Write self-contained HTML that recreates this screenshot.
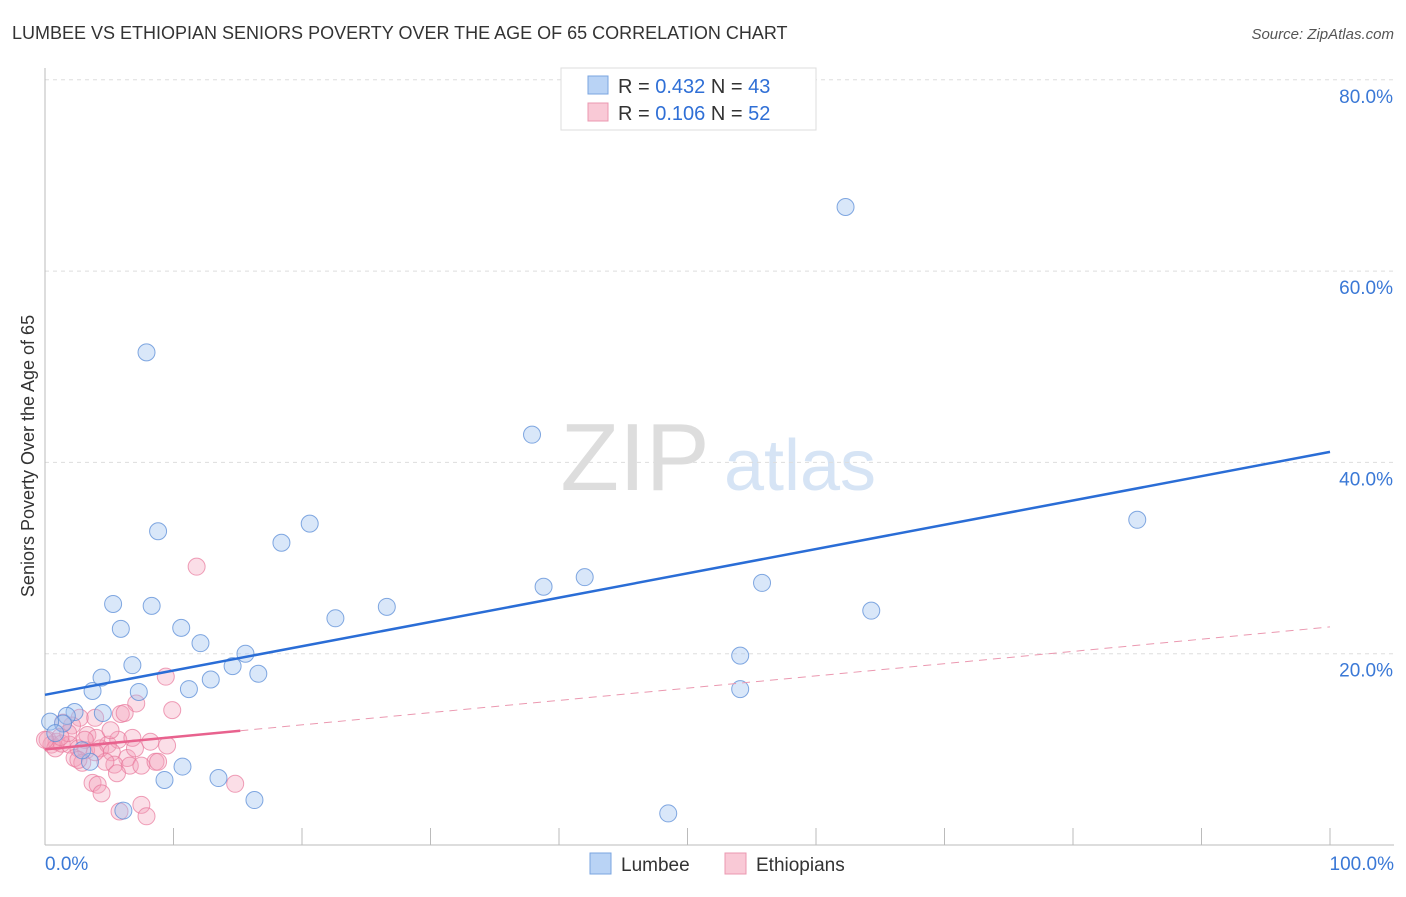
<!DOCTYPE html>
<html><head><meta charset="utf-8"><style>
body{margin:0;background:#fff;font-family:"Liberation Sans",sans-serif}
svg text{font-family:"Liberation Sans",sans-serif}
</style></head><body>
<svg id="c" width="1406" height="892">
<text x="12" y="39" font-size="18" fill="#333">LUMBEE VS ETHIOPIAN SENIORS POVERTY OVER THE AGE OF 65 CORRELATION CHART</text>
<text x="1394" y="39" font-size="15" fill="#555" font-style="italic" text-anchor="end">Source: ZipAtlas.com</text>
<text x="635" y="490" font-size="96" fill="#ddd" font-family="Liberation Serif" text-anchor="middle">ZIP</text>
<text x="800" y="490" font-size="72" fill="#d6e4f5" text-anchor="middle">atlas</text>
<text transform="translate(34,456) rotate(-90)" font-size="18" fill="#333" text-anchor="middle">Seniors Poverty Over the Age of 65</text>
<g id="grid"></g><g id="pts"></g><g id="lines"></g>
<g>
<rect x="561" y="68" width="255" height="62" fill="#fff" stroke="#ddd"/>
<rect x="588" y="76" width="20" height="18" fill="#b9d3f5" stroke="#7aa5e0"/>
<rect x="588" y="103" width="20" height="18" fill="#f9c9d6" stroke="#eb98b0"/>
<text x="618" y="93" font-size="20" fill="#333">R = <tspan fill="#2f6fd6">0.432</tspan>    N = <tspan fill="#2f6fd6">43</tspan></text>
<text x="618" y="120" font-size="20" fill="#333">R = <tspan fill="#2f6fd6">0.106</tspan>    N = <tspan fill="#2f6fd6">52</tspan></text>
</g>
<g>
<rect x="590" y="853" width="21" height="21" fill="#b9d3f5" stroke="#7aa5e0"/>
<text x="621" y="871" font-size="19" fill="#333">Lumbee</text>
<rect x="725" y="853" width="21" height="21" fill="#f9c9d6" stroke="#eb98b0"/>
<text x="756" y="871" font-size="19" fill="#333">Ethiopians</text>
</g>
</svg>
<script>
const yTicks=[20,40,60,80];
const xTickVals=[0,10,20,30,40,50,60,70,80,90,100];
const lumbeeX=[7.9,62.3,37.9,85.0,8.8,20.6,18.4,5.3,8.3,5.9,10.6,12.1,6.8,15.6,14.6,16.6,12.9,11.2,7.3,3.7,4.4,2.3,4.5,1.7,1.4,0.4,0.8,22.6,26.6,38.8,42.0,55.8,64.3,54.1,54.1,10.7,9.3,13.5,16.3,6.1,48.5,3.5,2.9];
const lumbeeY=[51.5,66.7,42.9,34.0,32.8,33.6,31.6,25.2,25.0,22.6,22.7,21.1,18.8,20.0,18.7,17.9,17.3,16.3,16.0,16.1,17.5,13.9,13.8,13.5,12.7,12.9,11.7,23.7,24.9,27.0,28.0,27.4,24.5,19.8,16.3,8.2,6.8,7.0,4.7,3.6,3.3,8.7,9.9];
const ethX=[11.8,9.4,9.9,7.1,5.9,6.2,3.9,2.7,2.1,1.4,0.9,0.5,0.2,0.8,1.3,1.9,2.6,3.2,4.3,4.9,5.7,6.8,8.2,9.5,3.3,4.0,5.2,6.4,2.3,2.9,5.4,6.6,7.5,8.6,4.7,5.6,3.7,4.1,4.4,5.8,7.5,7.9,14.8,1.8,1.2,0.0,3.1,5.1,7.0,8.8,2.6,3.9];
const ethY=[29.1,17.6,14.1,14.8,13.7,13.8,13.3,13.3,12.5,12.8,10.8,10.5,11.0,10.1,10.6,10.5,10.1,9.9,10.1,10.5,11.0,11.2,10.8,10.4,11.5,11.2,9.7,9.1,9.1,8.6,8.4,8.3,8.3,8.7,8.7,7.5,6.5,6.3,5.4,3.5,4.2,3.0,6.4,11.7,11.3,11.0,11.0,12.0,10.1,8.7,8.9,9.7];
const lumbeeTrend=[15.7,41.1];
const ethTrend=[10.0,22.8];
const ethSolidEnd=15.2;
const NS='http://www.w3.org/2000/svg';
const X=v=>45+v*12.85, Y=v=>845-v*9.565;
function mk(t,a,p){const e=document.createElementNS(NS,t);for(const k in a)e.setAttribute(k,a[k]);p.appendChild(e);return e;}
const g=document.getElementById('grid');
yTicks.forEach(t=>{
 const l=mk('line',{x1:45,x2:1394,y1:Y(t),y2:Y(t),stroke:'#ddd','stroke-dasharray':'4,4'},g);
 
 
 const tx=mk('text',{x:1393,y:Y(t)+23,'font-size':19,fill:'#3a78d6','text-anchor':'end'},g);
 tx.textContent=t.toFixed(1)+'%';
 
 
});
const ax=mk('line',{x1:45,x2:45,y1:68,y2:845,stroke:'#bbb'},g);


const bx=mk('line',{x1:45,x2:1394,y1:845,y2:845,stroke:'#bbb'},g);


xTickVals.forEach(t=>{
 const l=mk('line',{x1:X(t),x2:X(t),y1:828,y2:845,stroke:'#bbb'},g);
 
 
});
[[0,'0.0%','start',45],[100,'100.0%','end',1394]].forEach(d=>{
 const tx=mk('text',{x:d[3],y:870,'font-size':19,fill:'#3a78d6','text-anchor':d[2]},g);
 tx.textContent=d[1];
 
 
});
const p=document.getElementById('pts');
ethX.forEach((x,i)=>{
 const c=mk('circle',{cx:X(x),cy:Y(ethY[i]),r:8.5,fill:'rgba(244,160,185,0.35)',stroke:'rgba(232,120,155,0.7)','stroke-width':1},p);
 
 
});
lumbeeX.forEach((x,i)=>{
 const c=mk('circle',{cx:X(x),cy:Y(lumbeeY[i]),r:8.5,fill:'rgba(160,195,240,0.4)',stroke:'rgba(90,140,215,0.75)','stroke-width':1},p);
 
 
});
const L=document.getElementById('lines');
const bl=mk('line',{x1:X(0),y1:Y(lumbeeTrend[0]),x2:X(100),y2:Y(lumbeeTrend[1]),stroke:'#2a6dd6','stroke-width':2.5},L);


const ey=ethTrend[0]+(ethTrend[1]-ethTrend[0])*ethSolidEnd/100;
const el=mk('line',{x1:X(0),y1:Y(ethTrend[0]),x2:X(ethSolidEnd),y2:Y(ey),stroke:'#e8628e','stroke-width':2.5},L);


const ed=mk('line',{x1:X(ethSolidEnd),y1:Y(ey),x2:X(100),y2:Y(ethTrend[1]),stroke:'#eb98b0','stroke-width':1,'stroke-dasharray':'8,6'},L);


</script>
</body></html>
